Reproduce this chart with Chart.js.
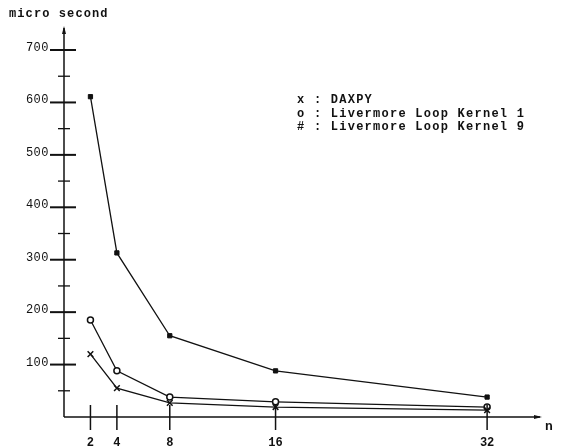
<!DOCTYPE html>
<html>
<head>
<meta charset="utf-8">
<script src="https://cdn.jsdelivr.net/npm/chart.js@4"></script>
<style>
  body { margin: 0; background: #fff; }
  #wrap { width: 563px; height: 448px; }
</style>
</head>
<body>
<div id="wrap"><canvas id="myChart" width="563" height="448"></canvas></div>
<script>
// values
const nValues = [2, 4, 8, 16, 32];
const daxpy = [120, 55, 27, 19, 13];
const kernel1 = [185, 88, 38, 29, 19];
const kernel9 = [611, 313, 155, 88, 38];
const yTickLabels = [100, 200, 300, 400, 500, 600, 700];
const yMinorTicks = [50, 150, 250, 350, 450, 550, 650];
const legendRows = ["x : DAXPY", "o : Livermore Loop Kernel 1", "# : Livermore Loop Kernel 9"];

const ink = "#111";
const mono = "'Liberation Mono', 'DejaVu Sans Mono', monospace";

function toPoints(ys) {
    return nValues.map((n, i) => ({ x: n, y: ys[i] }));
}

// axes, ticks and labels drawn by hand like the paper figure
const paperAxes = {
    id: 'paperAxes',
    afterDraw(chart) {
        const ctx = chart.ctx;
        const xs = chart.scales.x;
        const ys = chart.scales.y;
        const x0 = xs.getPixelForValue(0);
        const y0 = ys.getPixelForValue(0);
        const xEnd = xs.getPixelForValue(xs.max);
        const yEnd = ys.getPixelForValue(ys.max);

        ctx.save();
        ctx.strokeStyle = ink;
        ctx.fillStyle = ink;
        ctx.lineWidth = 1.5;

        // y axis + arrow
        ctx.beginPath();
        ctx.moveTo(x0, y0);
        ctx.lineTo(x0, yEnd);
        ctx.stroke();
        ctx.beginPath();
        ctx.moveTo(x0, yEnd - 2);
        ctx.lineTo(x0 - 2, yEnd + 6);
        ctx.lineTo(x0 + 2, yEnd + 6);
        ctx.closePath();
        ctx.fill();

        // x axis + arrow
        ctx.beginPath();
        ctx.moveTo(x0, y0);
        ctx.lineTo(xEnd, y0);
        ctx.stroke();
        ctx.beginPath();
        ctx.moveTo(xEnd + 2, y0);
        ctx.lineTo(xEnd - 6, y0 - 2);
        ctx.lineTo(xEnd - 6, y0 + 2);
        ctx.closePath();
        ctx.fill();

        // y ticks
        ctx.font = "12px " + mono;
        ctx.letterSpacing = "0.5px";
        ctx.textAlign = "right";
        ctx.textBaseline = "alphabetic";
        yTickLabels.forEach(v => {
            const py = ys.getPixelForValue(v);
            ctx.lineWidth = 2;
            ctx.beginPath();
            ctx.moveTo(x0 - 14, py);
            ctx.lineTo(x0 + 12, py);
            ctx.stroke();
            ctx.fillText(String(v), x0 - 15, py + 1);
        });
        ctx.lineWidth = 1.3;
        yMinorTicks.forEach(v => {
            const py = ys.getPixelForValue(v);
            ctx.beginPath();
            ctx.moveTo(x0 - 6, py);
            ctx.lineTo(x0 + 6, py);
            ctx.stroke();
        });

        // x ticks
        ctx.font = "bold 12px " + mono;
        ctx.letterSpacing = "0px";
        ctx.textAlign = "center";
        ctx.lineWidth = 1.5;
        nValues.forEach(n => {
            const px = xs.getPixelForValue(n);
            ctx.beginPath();
            ctx.moveTo(px, y0 - 12);
            ctx.lineTo(px, y0 + 13);
            ctx.stroke();
            ctx.fillText(String(n), px, y0 + 29);
        });

        // axis titles
        ctx.textAlign = "left";
        ctx.font = "bold 12px " + mono;
        ctx.letterSpacing = "1.1px";
        ctx.fillText("micro second", 9, 17);
        ctx.letterSpacing = "0px";
        ctx.font = "bold 13px " + mono;
        ctx.fillText("n", xEnd + 5, y0 + 13);

        // legend
        ctx.font = "bold 12px " + mono;
        ctx.letterSpacing = "1.25px";
        legendRows.forEach((t, i) => {
            ctx.fillText(t, 297, 103 + i * 13.5);
        });
        ctx.restore();
    }
};

const ctx = document.getElementById('myChart').getContext('2d');
const chart = new Chart(ctx, {
    type: 'scatter',
    data: {
        datasets: [
            {
                label: 'DAXPY',
                data: toPoints(daxpy),
                showLine: true,
                borderColor: ink,
                borderWidth: 1.3,
                pointStyle: 'crossRot',
                pointRadius: 4,
                pointBorderWidth: 1.5,
                pointBorderColor: ink,
                pointBackgroundColor: ink
            },
            {
                label: 'Livermore Loop Kernel 1',
                data: toPoints(kernel1),
                showLine: true,
                borderColor: ink,
                borderWidth: 1.3,
                pointStyle: 'circle',
                pointRadius: 3,
                pointBorderWidth: 1.5,
                pointBorderColor: ink,
                pointBackgroundColor: '#fff'
            },
            {
                label: 'Livermore Loop Kernel 9',
                data: toPoints(kernel9),
                showLine: true,
                borderColor: ink,
                borderWidth: 1.3,
                pointStyle: 'rect',
                pointRadius: 3,
                pointBorderWidth: 1,
                pointBorderColor: ink,
                pointBackgroundColor: ink
            }
        ]
    },
    options: {
        responsive: false,
        animation: false,
        layout: { padding: { left: 64, right: 23, top: 28, bottom: 31 } },
        plugins: { legend: { display: false }, tooltip: { enabled: false } },
        scales: {
            x: { type: 'linear', min: 0, max: 36, display: false },
            y: { type: 'linear', min: 0, max: 742, display: false }
        }
    },
    plugins: [paperAxes]
});
</script>
</body>
</html>
